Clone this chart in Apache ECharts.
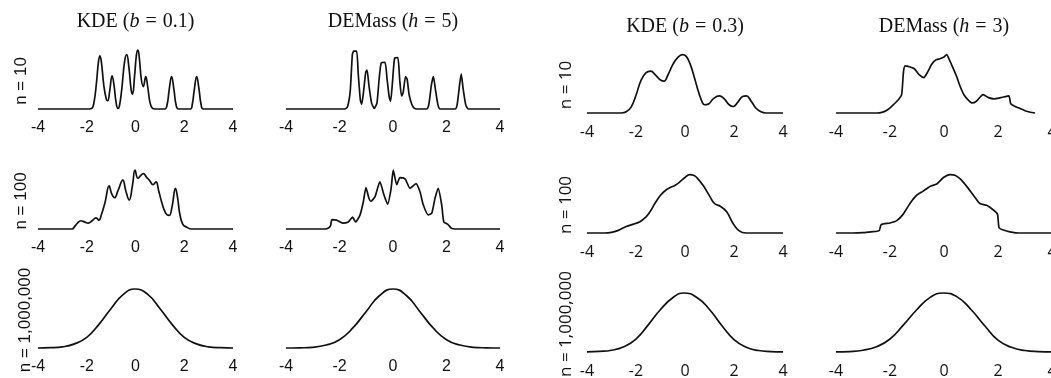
<!DOCTYPE html>
<html>
<head>
<meta charset="utf-8">
<script src="https://cdn.jsdelivr.net/npm/echarts@6.0.0/dist/echarts.min.js"></script>
<style>
  html, body { margin: 0; padding: 0; background: #fff; }
  #chart { width: 1051px; height: 378px; }
</style>
</head>
<body>
<div id="chart"></div>
<script>
// density curves, y scaled so each panel's max is ~1
const kdeB01N10 = [[-4,0],[-2.0,0],[-1.8,0.01],[-1.7,0.12],[-1.6,0.45],[-1.52,0.8],[-1.46,0.9],[-1.4,0.8],[-1.3,0.4],[-1.2,0.17],[-1.14,0.14],[-1.06,0.3],[-0.96,0.56],[-0.88,0.4],[-0.8,0.12],[-0.72,0.01],[-0.66,0.05],[-0.56,0.35],[-0.45,0.8],[-0.36,0.92],[-0.27,0.7],[-0.18,0.33],[-0.12,0.25],[-0.04,0.55],[0.04,0.92],[0.1,1.0],[0.16,0.85],[0.24,0.5],[0.32,0.38],[0.42,0.55],[0.5,0.38],[0.6,0.1],[0.7,0.01],[0.8,0],[1.2,0],[1.3,0.08],[1.38,0.32],[1.48,0.55],[1.58,0.32],[1.66,0.08],[1.76,0],[2.25,0],[2.33,0.08],[2.41,0.32],[2.51,0.55],[2.61,0.32],[2.69,0.08],[2.78,0],[4,0]];
const demassH5N10 = [[-4,0],[-1.8,0],[-1.7,0.04],[-1.6,0.3],[-1.52,0.92],[-1.47,0.98],[-1.36,0.98],[-1.3,0.6],[-1.22,0.15],[-1.17,0.08],[-1.1,0.3],[-1.02,0.62],[-0.97,0.66],[-0.9,0.4],[-0.8,0.1],[-0.7,0.01],[-0.6,0.1],[-0.52,0.5],[-0.44,0.78],[-0.3,0.79],[-0.22,0.5],[-0.14,0.2],[-0.09,0.13],[-0.02,0.45],[0.06,0.86],[0.18,0.87],[0.25,0.5],[0.32,0.22],[0.38,0.28],[0.47,0.55],[0.53,0.5],[0.6,0.25],[0.7,0.08],[0.8,0.01],[0.9,0],[1.26,0],[1.34,0.08],[1.44,0.42],[1.51,0.55],[1.58,0.35],[1.68,0.07],[1.76,0],[2.32,0],[2.4,0.08],[2.5,0.45],[2.55,0.59],[2.62,0.35],[2.72,0.07],[2.82,0],[4,0]];
const kdeB03N10 = [[-4,0],[-2.6,0],[-2.4,0.02],[-2.2,0.1],[-2.0,0.3],[-1.8,0.55],[-1.6,0.68],[-1.4,0.71],[-1.2,0.64],[-1.0,0.56],[-0.86,0.54],[-0.7,0.64],[-0.5,0.82],[-0.3,0.94],[-0.1,0.99],[0.05,0.96],[0.2,0.84],[0.35,0.65],[0.5,0.43],[0.65,0.24],[0.8,0.14],[0.95,0.15],[1.15,0.24],[1.4,0.29],[1.6,0.24],[1.8,0.14],[1.97,0.11],[2.15,0.18],[2.35,0.28],[2.5,0.29],[2.7,0.2],[2.9,0.08],[3.1,0.02],[3.3,0],[4,0]];
const demassH3N10 = [[-4,0],[-2.5,0],[-2.3,0.01],[-2.1,0.05],[-1.9,0.13],[-1.7,0.22],[-1.57,0.31],[-1.5,0.7],[-1.44,0.8],[-1.25,0.78],[-1.1,0.75],[-0.9,0.64],[-0.75,0.6],[-0.6,0.7],[-0.45,0.83],[-0.3,0.9],[-0.15,0.92],[0.0,0.95],[0.1,0.99],[0.2,0.9],[0.3,0.8],[0.45,0.64],[0.6,0.45],[0.75,0.3],[0.9,0.22],[1.05,0.17],[1.2,0.2],[1.45,0.31],[1.65,0.26],[1.85,0.24],[2.1,0.26],[2.4,0.29],[2.47,0.16],[2.6,0.12],[2.8,0.08],[3.05,0.03],[3.37,0]];

const kdeB01N100 = [[-4,0],[-2.6,0],[-2.5,0.04],[-2.38,0.1],[-2.24,0.14],[-2.1,0.12],[-1.94,0.1],[-1.78,0.14],[-1.62,0.19],[-1.5,0.15],[-1.4,0.24],[-1.25,0.45],[-1.08,0.73],[-0.98,0.6],[-0.86,0.53],[-0.72,0.65],[-0.52,0.83],[-0.4,0.65],[-0.26,0.49],[-0.12,0.75],[-0.02,1.0],[0.1,0.86],[0.2,0.9],[0.32,0.94],[0.45,0.88],[0.58,0.82],[0.72,0.75],[0.84,0.8],[0.95,0.65],[1.1,0.42],[1.25,0.26],[1.38,0.23],[1.5,0.38],[1.64,0.69],[1.72,0.55],[1.82,0.25],[1.94,0.08],[2.1,0.03],[2.3,0],[4,0]];
const demassH5N100 = [[-4,0],[-2.6,0],[-2.45,0.01],[-2.34,0.05],[-2.28,0.16],[-2.11,0.15],[-1.88,0.1],[-1.67,0.12],[-1.51,0.2],[-1.4,0.12],[-1.23,0.24],[-1.11,0.46],[-1.01,0.7],[-0.9,0.52],[-0.83,0.47],[-0.67,0.55],[-0.49,0.8],[-0.34,0.58],[-0.2,0.42],[-0.07,0.69],[0.01,1.0],[0.14,0.75],[0.26,0.87],[0.45,0.85],[0.64,0.69],[0.86,0.77],[1.01,0.63],[1.13,0.41],[1.32,0.24],[1.45,0.27],[1.57,0.52],[1.69,0.69],[1.82,0.41],[1.9,0.12],[2.05,0.08],[2.19,0.01],[2.32,0],[4,0]];
const kdeB03N100 = [[-4,0],[-3.3,0],[-3.0,0.01],[-2.75,0.04],[-2.4,0.11],[-2.1,0.15],[-1.84,0.19],[-1.6,0.27],[-1.43,0.36],[-1.2,0.52],[-1.0,0.64],[-0.8,0.72],[-0.6,0.77],[-0.4,0.81],[-0.2,0.87],[0,0.94],[0.2,0.99],[0.35,0.98],[0.5,0.93],[0.75,0.8],[1.0,0.63],[1.2,0.5],[1.45,0.45],[1.7,0.36],[1.95,0.17],[2.2,0.04],[2.5,0],[4,0]];
const demassH3N100 = [[-4,0],[-3.4,0],[-3.0,0.005],[-2.7,0.02],[-2.4,0.04],[-2.33,0.14],[-2.0,0.17],[-1.75,0.21],[-1.51,0.32],[-1.26,0.5],[-1.01,0.64],[-0.77,0.71],[-0.52,0.79],[-0.27,0.83],[-0.02,0.94],[0.22,0.99],[0.41,0.98],[0.59,0.92],[0.84,0.79],[1.09,0.64],[1.33,0.5],[1.58,0.47],[1.83,0.39],[1.98,0.32],[2.04,0.09],[2.2,0.05],[2.44,0.02],[2.8,0],[4,0]];

const kdeB01N1e6 = [[-4,0],[-3.5,0.005],[-3,0.02],[-2.5,0.07],[-2,0.18],[-1.5,0.4],[-1,0.67],[-0.5,0.91],[-0.03,1],[0.5,0.91],[1,0.67],[1.5,0.4],[2,0.18],[2.5,0.07],[3,0.02],[3.5,0.005],[4,0]];
const demassH5N1e6 = [[-4,0],[-3.5,0.003],[-3,0.012],[-2.5,0.05],[-2,0.14],[-1.5,0.34],[-1,0.62],[-0.5,0.89],[0,1],[0.5,0.89],[1,0.62],[1.5,0.34],[2,0.14],[2.5,0.05],[3,0.012],[3.5,0.003],[4,0]];
const kdeB03N1e6 = [[-4,0.003],[-3.5,0.01],[-3,0.03],[-2.5,0.09],[-2,0.22],[-1.5,0.46],[-1,0.72],[-0.5,0.92],[-0.05,1],[0.5,0.92],[1,0.72],[1.5,0.45],[2,0.21],[2.5,0.08],[3,0.025],[3.5,0.008],[4,0.002]];
const demassH3N1e6 = [[-4,0.002],[-3.5,0.008],[-3,0.03],[-2.5,0.09],[-2,0.22],[-1.5,0.46],[-1,0.72],[-0.5,0.93],[-0.03,1],[0.5,0.93],[1,0.72],[1.5,0.45],[2,0.2],[2.5,0.08],[3,0.025],[3.5,0.007],[4,0.002]];

const xTickMin = -4, xTickMax = 4, xTickStep = 2;
const columnTitles = [
  ['KDE (', 'b', '0.1)'],
  ['DEMass (', 'h', '5)'],
  ['KDE (', 'b', '0.3)'],
  ['DEMass (', 'h', '3)']
];
const rowLabels = ['n = 10', 'n = 100', 'n = 1,000,000'];

const curves = [
  [kdeB01N10, demassH5N10, kdeB03N10, demassH3N10],
  [kdeB01N100, demassH5N100, kdeB03N100, demassH3N100],
  [kdeB01N1e6, demassH5N1e6, kdeB03N1e6, demassH3N1e6]
];

// layout (pixels)
const colLeft = [38, 286, 587, 836];
const colWidth = [195, 214, 196, 216];
const baseLeftHalf = [109, 229, 348];
const baseRightHalf = [113, 233, 352];
const plotH = 59;
const sansLeft = 'Liberation Sans, Arial, sans-serif';
const sansRight = 'Open Sans, sans-serif';
const serif = 'Liberation Serif, Times New Roman, serif';

const chart = echarts.init(document.getElementById('chart'), null, { renderer: 'canvas' });

const grid = [], xAxis = [], yAxis = [], series = [], graphic = [];
let idx = 0;
curves.forEach((row, r) => {
  row.forEach((data, c) => {
    const right = c >= 2;
    const base = right ? baseRightHalf[r] : baseLeftHalf[r];
    // DEMass curves are kinked, except the big-sample row which is smooth
    const smooth = (r === 2) ? 0.5 : ((c === 1 || c === 3) ? 0.2 : 0.45);
    grid.push({
      left: colLeft[c], top: base - plotH, width: colWidth[c], height: plotH,
      containLabel: false, outerBoundsMode: 'none'
    });
    xAxis.push({
      gridIndex: idx, type: 'value', min: xTickMin, max: xTickMax, interval: xTickStep,
      axisLine: { show: false }, axisTick: { show: false }, splitLine: { show: false },
      axisLabel: {
        show: true, margin: 11, fontSize: 16, color: '#111',
        fontFamily: right ? sansRight : sansLeft,
        showMinLabel: true, showMaxLabel: true, hideOverlap: false
      }
    });
    yAxis.push({ gridIndex: idx, type: 'value', min: 0, max: 1, show: false });
    series.push({
      type: 'line', xAxisIndex: idx, yAxisIndex: idx, data: data,
      symbol: 'none', clip: false, smooth: smooth,
      lineStyle: { color: '#111', width: 1.7 }
    });
    idx++;
  });
});

// column titles, math part in italics with wide spacing round "="
columnTitles.forEach((t, c) => {
  const right = c >= 2;
  graphic.push({
    type: 'text',
    x: colLeft[c] + colWidth[c] / 2,
    y: right ? 27 : 22,
    style: {
      text: '{r|' + t[0] + '}{i|' + t[1] + '}{e|=}{r|' + t[2] + '}',
      align: 'center', verticalAlign: 'middle',
      rich: {
        r: { fontFamily: serif, fontSize: 20, fill: '#111' },
        i: { fontFamily: serif, fontSize: 20, fontStyle: 'italic', fill: '#111' },
        e: { fontFamily: serif, fontSize: 20, fill: '#111', padding: [0, 6, 0, 6] }
      }
    }
  });
});

rowLabels.forEach((lab, r) => {
  [0, 2].forEach(c => {
    const right = c >= 2;
    const base = right ? baseRightHalf[r] : baseLeftHalf[r];
    graphic.push({
      type: 'text',
      x: right ? 566 : (r === 2 ? 25 : 21),
      y: base - 28,
      rotation: Math.PI / 2,
      style: {
        text: lab, align: 'center', verticalAlign: 'middle',
        fontFamily: right ? sansRight : sansLeft, fontSize: 17, fill: '#111'
      }
    });
  });
});

chart.setOption({
  animation: false,
  backgroundColor: '#fff',
  grid, xAxis, yAxis, series, graphic
});
</script>
</body>
</html>
